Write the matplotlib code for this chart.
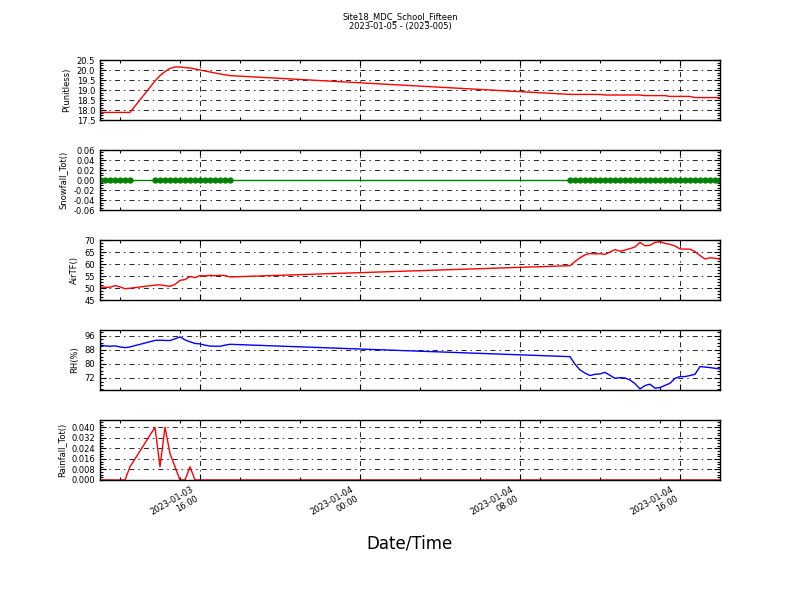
import numpy as np
import pandas as pd
import matplotlib
matplotlib.use("Agg")
import matplotlib.pyplot as plt
import matplotlib.dates as mdates
from matplotlib.ticker import MultipleLocator, AutoMinorLocator, FormatStrFormatter

plt.rcParams['lines.scale_dashes'] = False
plt.rcParams['font.family'] = ['DejaVu Sans']

# ---- time stamps (15-minute records, three segments) ----
t_seg1 = pd.date_range("2023-01-03 11:00", "2023-01-03 12:30", freq="15min")
t_seg2 = pd.date_range("2023-01-03 13:45", "2023-01-03 17:30", freq="15min")
t_seg3 = pd.date_range("2023-01-04 10:30", "2023-01-04 18:00", freq="15min")
times = t_seg1.append(t_seg2).append(t_seg3)

# ---- series values ----
pressure = [17.88, 17.88, 17.88, 17.88, 17.88, 17.88, 17.88,
            19.45, 19.72, 19.92, 20.08, 20.15, 20.15, 20.12, 20.10, 20.05, 20.00,
            19.95, 19.90, 19.85, 19.80, 19.76, 19.72,
            18.78, 18.78, 18.78, 18.78, 18.78, 18.78, 18.78,
            18.75, 18.75, 18.75, 18.75, 18.75, 18.75, 18.75, 18.75,
            18.72, 18.72, 18.72, 18.72, 18.72,
            18.68, 18.68, 18.68, 18.68, 18.68,
            18.62, 18.62, 18.62, 18.62, 18.62, 18.62]

snowfall = [0.0] * 54

air_t = [50.4, 50.3, 50.3, 51.0, 50.5, 49.7, 49.9,
         51.2, 51.3, 51.0, 50.7, 51.5, 53.2, 53.5, 54.8, 54.3, 55.2,
         55.0, 55.3, 55.1, 55.3, 55.2, 54.6,
         59.3, 61.0, 62.6, 63.8, 64.4, 64.2, 64.3, 64.0, 65.0, 66.0,
         65.3, 65.8, 66.4, 67.1, 69.0, 67.6, 67.8, 69.0, 69.3, 68.6,
         68.2, 67.5, 66.3, 66.2, 66.2, 65.2, 63.5, 62.1, 62.6, 62.4, 62.0]

rh = [90.7, 90.2, 90.0, 90.2, 89.6, 89.2, 89.6,
      93.3, 93.4, 93.3, 93.2, 94.2, 95.3, 93.6, 92.5, 91.6, 91.3,
      90.6, 90.1, 90.0, 90.0, 90.6, 91.1,
      84.1, 79.8, 76.6, 74.8, 73.4, 74.1, 74.3, 75.2, 73.5, 71.8,
      72.2, 72.0, 70.9, 68.8, 65.8, 67.7, 68.5, 66.2, 66.6, 67.8,
      69.0, 71.8, 72.8, 72.8, 73.4, 74.1, 78.5, 78.2, 77.9, 77.5, 77.1]

rainfall = [0.0, 0.0, 0.0, 0.0, 0.0, 0.0, 0.01,
            0.04, 0.01, 0.04, 0.02, 0.01, 0.0, 0.0, 0.01, 0.0, 0.0,
            0.0, 0.0, 0.0, 0.0, 0.0, 0.0] + [0.0] * 31

title = "Site18_MDC_School_Fifteen\n2023-01-05 - (2023-005)"

panels = [
    ("P(unitless)", pressure, "r", None, (17.5, 20.5), 0.5, "%.1f"),
    ("Snowfall_Tot()", snowfall, "g", "o", (-0.06, 0.06), 0.02, "%.2f"),
    ("AirTF()", air_t, "r", None, (45, 70), 5, "%d"),
    ("RH(%)", rh, "b", None, (65.2, 99.2), 8, "%d"),
    ("Rainfall_Tot()", rainfall, "r", None, (0.0, 0.0455), 0.008, "%.3f"),
]

fig, axes = plt.subplots(5, 1, sharex=True, figsize=(8, 6), dpi=100)
fig.subplots_adjust(left=0.125, right=0.9, top=0.9, bottom=0.2, hspace=0.5)
fig.suptitle(title, fontsize=6, y=0.98)

green = (0, 0.5, 0)
for ax, (lab, vals, col, mk, ylim, step, fmt) in zip(axes, panels):
    c = green if col == "g" else col
    if mk:
        ax.plot(times, vals, color=c, marker=mk, markersize=3.5, markeredgecolor=c, lw=1.0)
    else:
        ax.plot(times, vals, color=c, lw=1.0)
    ax.set_ylim(*ylim)
    ax.yaxis.set_major_locator(MultipleLocator(step))
    ax.yaxis.set_minor_locator(AutoMinorLocator(4))
    ax.yaxis.set_major_formatter(FormatStrFormatter(fmt))
    ax.set_ylabel(lab, fontsize=6)
    ax.tick_params(axis='both', which='major', direction='in', length=4, width=0.8,
                   top=True, right=True, labelsize=6)
    ax.tick_params(axis='both', which='minor', direction='in', length=2, width=0.8,
                   top=True, right=True)
    for s in ax.spines.values():
        s.set_linewidth(1.0)
    ax.grid(True, which='major', color='k', linestyle=(0, (3.6, 2.9, 1.0, 2.9)), linewidth=0.6)

ax = axes[-1]
ax.set_xlim(pd.Timestamp("2023-01-03 11:00"), pd.Timestamp("2023-01-04 18:00"))
ax.xaxis.set_major_locator(mdates.HourLocator(byhour=[0, 8, 16]))
ax.xaxis.set_minor_locator(mdates.HourLocator(byhour=range(0, 24, 3)))
ax.xaxis.set_major_formatter(mdates.DateFormatter("%Y-%m-%d\n%H:%M"))
for t in ax.get_xticklabels():
    t.set_rotation(30)
    t.set_ha("right")
    t.set_fontsize(6)
ax.set_xlabel("Date/Time", fontsize=12, labelpad=6)

fig.savefig("out.png", dpi=100)
